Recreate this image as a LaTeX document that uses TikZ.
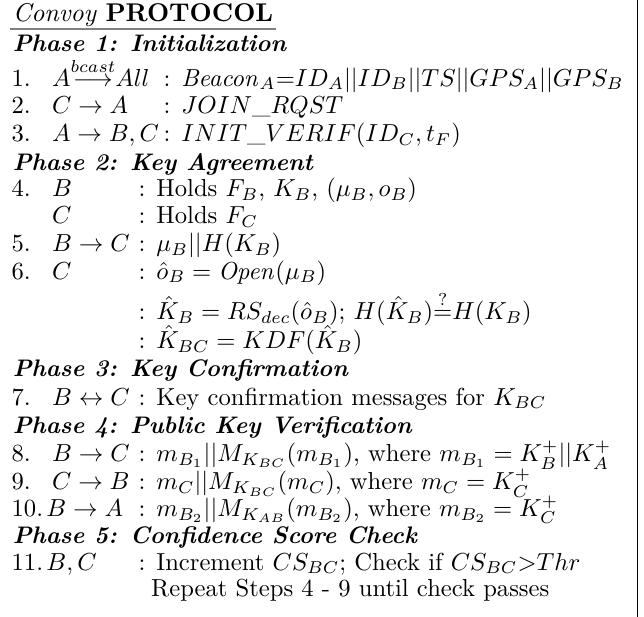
\documentclass[tikz,border=0pt]{standalone}
\usepackage{amsmath}
\usetikzlibrary{positioning}

\begin{document}
\begin{tikzpicture}[x=1pt, y=1pt,
    txt/.style={anchor=base west, inner sep=0pt, scale=1.055},
    phase/.style={anchor=base west, inner sep=0pt, scale=1.025, font=\bfseries\itshape}]
	% Page size and column positions
	\useasboundingbox (0,0) rectangle (276,-264.4);
	\def\xnum{4.8}
	\def\xpty{22.1}
	\def\colA{69.9}
	\def\colB{59.2}

	% Right border and rule under the title
	\draw[line width=0.6pt] (273.2,0) -- (273.2,-264.4);
	\node[anchor=base west, inner sep=0pt, scale=1.1] (title) at (5.3,-9.4) {\textit{Convoy} \textbf{PROTOCOL}};
	\draw[gray, line width=0.8pt] (4.3,-12.4) -- (118.3,-12.4);

	% Phase headings
	\foreach \i/\y/\t in {1/21.9/Initialization, 2/72.9/Key Agreement, 3/161.4/Key Confirmation,
	                      4/185.7/Public Key Verification, 5/232.9/Confidence Score Check}
		{\node[phase] (ph\i) at (5.3,-\y) {Phase \i: \t};}

	% Step numbers
	\foreach \i/\y in {1/36.9, 2/48.6, 3/60.7, 4/84.3, 5/107.9, 6/119.6, 7/173.6,
	                   8/197.9, 9/210, 10/221.4, 11/244.3}
		{\node[txt] (n\i) at (\xnum,-\y) {\i.};}

	% Phase 1
	\node[txt] (p1) at (\xpty,-36.9) {$A{\stackrel{bcast}{\longrightarrow}}All$};
	\node[txt] (c1) at (\colA,-36.9) {: $\mathit{Beacon}_A{=}ID_A||ID_B||TS||GPS_A||GPS_B$};
	\node[txt] (p2) at (\xpty,-48.6) {$C\rightarrow A$};
	\node[txt] (c2) at (\colA,-48.6) {: $JOIN\_RQST$};
	\node[txt] (p3) at (\xpty,-60.7) {$A\rightarrow B,C$};
	\node[txt] (c3) at (\colA,-60.7) {: $INIT\_VERIF(ID_C, t_F)$};

	% Phase 2
	\node[txt] (p4) at (\xpty,-84.3) {$B$};
	\node[txt] (c4) at (\colB,-84.3) {: Holds $F_B$, $K_B$, $(\mu_B, o_B)$};
	\node[txt] (p4b) at (\xpty,-96) {$C$};
	\node[txt] (c4b) at (\colB,-96) {: Holds $F_C$};
	\node[txt] (p5) at (\xpty,-107.9) {$B\rightarrow C$};
	\node[txt] (c5) at (\colB,-107.9) {: $\mu_B||H(K_B)$};
	\node[txt] (p6) at (\xpty,-119.6) {$C$};
	\node[txt] (c6) at (\colB,-119.6) {: $\hat{o}_B = \mathit{Open}(\mu_B)$};
	\node[txt] (c6b) at (\colB,-137.1) {: $\hat{K}_B = RS_{dec}(\hat{o}_B)$; $H(\hat{K}_B){\stackrel{?}{=}}H(K_B)$};
	\node[txt] (c6c) at (\colB,-149.3) {: $\hat{K}_{BC} = KDF(\hat{K}_B)$};

	% Phase 3
	\node[txt] (p7) at (\xpty,-173.6) {$B\leftrightarrow C$};
	\node[txt] (c7) at (\colB,-173.6) {: Key confirmation messages for $K_{BC}$};

	% Phase 4
	\node[txt] (p8) at (\xpty,-197.9) {$B\rightarrow C$};
	\node[txt] (c8) at (\colB,-197.9) {: $m_{B_1}||M_{K_{BC}}(m_{B_1})$, where $m_{B_1} = K_B^+||K_A^+$};
	\node[txt] (p9) at (\xpty,-210) {$C\rightarrow B$};
	\node[txt] (c9) at (\colB,-210) {: $m_C||M_{K_{BC}}(m_C)$, where $m_C = K_C^+$};
	\node[txt] (p10) at (19.7,-221.4) {$B\rightarrow A$};
	\node[txt] (c10) at (\colB,-221.4) {: $m_{B_2}||M_{K_{AB}}(m_{B_2})$, where $m_{B_2} = K_C^+$};

	% Phase 5
	\node[txt] (p11) at (19.7,-244.3) {$B,C$};
	\node[txt] (c11) at (\colB,-244.3) {: Increment $CS_{BC}$; Check if $CS_{BC}{>}Thr$};
	\node[txt] (rep) at (64.6,-255.7) {Repeat Steps 4 - 9 until check passes};
\end{tikzpicture}
\end{document}
